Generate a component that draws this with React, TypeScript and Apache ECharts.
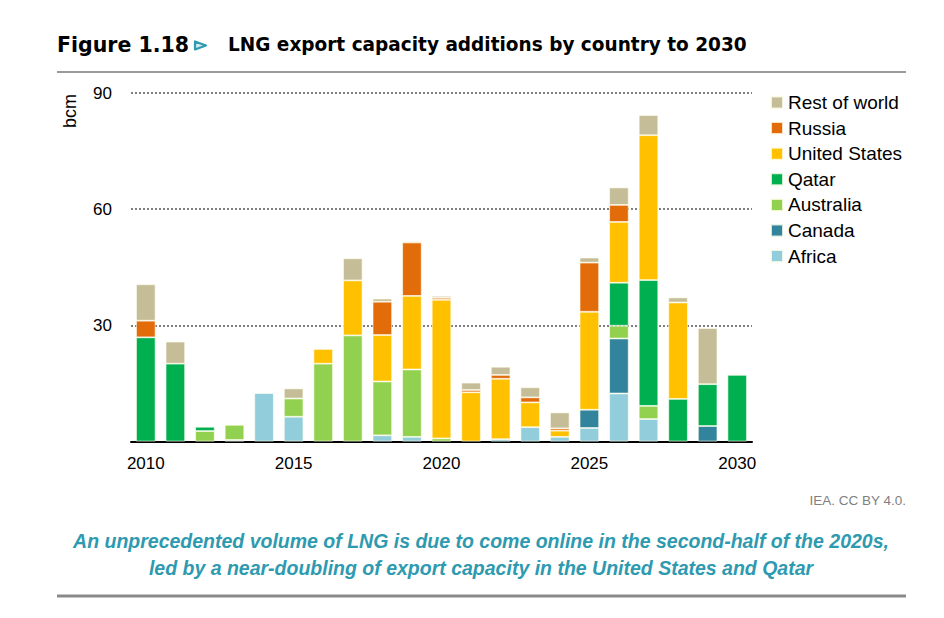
import React, { useEffect, useRef } from "react";
import * as echarts from "echarts";

const years = ["2010","2011","2012","2013","2014","2015","2016","2017","2018","2019","2020","2021","2022","2023","2024","2025","2026","2027","2028","2029","2030"];
const yearTickLabels = ["2010", "2015", "2020", "2025", "2030"];

const africa    = [0, 0, 0, 0.4, 12.5, 6.4, 0, 0, 1.6, 1.2, 0, 0, 0.6, 3.7, 1.2, 3.5, 12.4, 5.8, 0, 0, 0];
const canada    = [0, 0, 0, 0, 0, 0, 0, 0, 0, 0, 0, 0, 0, 0, 0, 4.7, 14.2, 0, 0, 4.0, 0];
const australia = [0, 0, 2.7, 3.9, 0, 4.7, 20.1, 27.4, 13.9, 17.4, 0.8, 0, 0, 0, 0, 0, 3.3, 3.4, 0, 0, 0];
const qatar     = [26.9, 20.1, 1.1, 0, 0, 0, 0, 0, 0, 0, 0, 0, 0, 0, 0, 0, 11.1, 32.5, 11.0, 10.8, 17.2];
const unitedStates = [0, 0, 0, 0, 0, 0, 3.8, 14.2, 12.0, 19.0, 35.8, 12.7, 15.6, 6.4, 1.6, 25.3, 15.7, 37.4, 24.9, 0, 0];
const russia    = [4.3, 0, 0, 0, 0, 0, 0, 0, 8.6, 13.8, 0.5, 0.6, 1.0, 1.3, 0.6, 12.7, 4.4, 0, 0, 0, 0];
const restOfWorld = [9.4, 5.7, 0, 0, 0, 2.6, 0, 5.7, 0.8, 0.3, 0.5, 1.9, 2.1, 2.6, 4.1, 1.3, 4.5, 5.2, 1.3, 14.5, 0];

const seriesDefs = [
  { name: "Africa", data: africa, color: "#92CDDC" },
  { name: "Canada", data: canada, color: "#31849B" },
  { name: "Australia", data: australia, color: "#92D050" },
  { name: "Qatar", data: qatar, color: "#00B050" },
  { name: "United States", data: unitedStates, color: "#FFC000" },
  { name: "Russia", data: russia, color: "#E36C0A" },
  { name: "Rest of world", data: restOfWorld, color: "#C4BD97" },
];

const FONT = "Liberation Sans";
const TEAL = "#2E9AB0";

export default function App() {
  const ref = useRef<HTMLDivElement>(null);
  useEffect(() => {
    if (!ref.current) return;
    const chart = echarts.init(ref.current, null, { renderer: "svg" });
    const option: any = {
      animation: false,
      backgroundColor: "#ffffff",
      textStyle: { fontFamily: FONT },
      grid: { left: 131, right: 192, top: 93, bottom: 176.5, containLabel: false },
      legend: {
        orient: "vertical",
        left: 770,
        top: 93,
        padding: 0,
        icon: "rect",
        itemWidth: 12,
        itemHeight: 12,
        itemGap: 6.6,
        data: seriesDefs.map((s) => s.name).reverse(),
        textStyle: { fontFamily: FONT, fontSize: 19, color: "#000", lineHeight: 19 },
        selectedMode: false,
      },
      xAxis: {
        type: "category",
        data: years,
        axisLine: { show: true, lineStyle: { color: "#000", width: 2 } },
        axisTick: { show: false },
        axisLabel: {
          interval: 0,
          fontFamily: FONT,
          fontSize: 17,
          color: "#000",
          margin: 13,
          formatter: (v: string) => (yearTickLabels.includes(v) ? v : ""),
        },
      },
      yAxis: {
        type: "value",
        min: 0,
        max: 90,
        interval: 30,
        axisLine: { show: false },
        axisTick: { show: false },
        axisLabel: {
          fontFamily: FONT,
          fontSize: 17,
          color: "#000",
          margin: 19,
          formatter: (v: number) => (v === 0 ? "" : String(v)),
        },
        splitLine: { show: true, lineStyle: { type: "dotted", color: "#7f7f7f", width: 2 } },
      },
      series: seriesDefs.map((s) => ({
        name: s.name,
        type: "bar",
        stack: "total",
        barCategoryGap: "34%",
        itemStyle: { color: s.color, borderColor: "rgba(255,255,240,0.8)", borderWidth: 0.8 },
        data: s.data.map((v) => (v === 0 ? "-" : v)),
      })),
      graphic: [
        { type: "text", x: 57, y: 44.5, style: { text: "Figure 1.18", font: `bold 20.5px "DejaVu Sans"`, fill: "#000", verticalAlign: "middle" } },
        { type: "polygon", shape: { points: [[195, 41.5], [195, 49.5], [206, 45.5]] }, style: { fill: "#cfeaf0", stroke: TEAL, lineWidth: 2.2, lineJoin: "round" } },
        { type: "text", x: 228, y: 44.5, scaleX: 0.925, style: { text: "LNG export capacity additions by country to 2030", font: `bold 20px "DejaVu Sans"`, fill: "#000", verticalAlign: "middle" } },
        { type: "line", shape: { x1: 57, y1: 72, x2: 906, y2: 72 }, style: { stroke: "#9a9a9a", lineWidth: 2 } },
        { type: "text", x: 70, y: 111, rotation: Math.PI / 2, style: { text: "bcm", font: `18px "${FONT}"`, fill: "#000", align: "center", verticalAlign: "middle" } },
        { type: "text", x: 906, y: 500, style: { text: "IEA. CC BY 4.0.", font: `13.5px "${FONT}"`, fill: "#7f7f7f", align: "right", verticalAlign: "middle" } },
        { type: "text", x: 481, y: 541, style: { text: "An unprecedented volume of LNG is due to come online in the second-half of the 2020s,", font: `italic bold 19.5px "${FONT}"`, fill: TEAL, align: "center", verticalAlign: "middle" } },
        { type: "text", x: 481, y: 568, style: { text: "led by a near-doubling of export capacity in the United States and Qatar", font: `italic bold 19.5px "${FONT}"`, fill: TEAL, align: "center", verticalAlign: "middle" } },
        { type: "line", shape: { x1: 57, y1: 596, x2: 906, y2: 596 }, style: { stroke: "#8a8a8a", lineWidth: 3 } },
      ],
    };
    chart.setOption(option);
    return () => chart.dispose();
  }, []);
  return <div ref={ref} style={{ position: "fixed", left: 0, top: 0, width: 944, height: 618 }} />;
}
